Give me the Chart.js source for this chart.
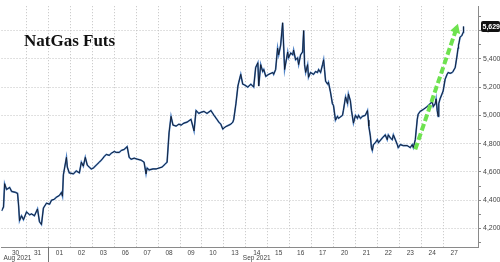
<!DOCTYPE html>
<html>
<head>
<meta charset="utf-8">
<script src="https://cdn.jsdelivr.net/npm/chart.js@4.4.0/dist/chart.umd.min.js"></script>
<style>
    html, body { margin: 0; padding: 0; background: #fff; }
    #wrap { width: 500px; height: 262px; }
</style>
</head>
<body>
<div id="wrap"><canvas id="chart" width="500" height="262"></canvas></div>
<script>
// Trading days on the x axis (index 0 = Aug 30), fractions = time within the session
const dayLabels = ['30', '31', '01', '02', '03', '06', '07', '08', '09', '10', '13',
    '14', '15', '16', '17', '20', '21', '22', '23', '24', '27'];
const monthLabels = ['Aug 2021', 'Sep 2021'];
const monthStart = [0, 2]; // first day index of each month

// y ticks: minor marks every 100, labels and grid every 200
const yTicks = [4100, 4200, 4300, 4400, 4500, 4600, 4700, 4800, 4900, 5000,
    5100, 5200, 5300, 5400, 5500, 5600, 5700];
const yLabelled = [4200, 4400, 4600, 4800, 5000, 5200, 5400, 5600];

// NatGas futures
const times = [
    -0.64, -0.55, -0.5, -0.41, -0.27, -0.18, 0, 0.09, 0.14, 0.18, 0.27, 0.36, 0.5, 0.64, 0.73, 0.86,
    1.0, 1.09, 1.18, 1.27, 1.41, 1.55, 1.64, 1.77, 1.86, 2.0, 2.09, 2.14, 2.18, 2.32, 2.36, 2.45,
    2.64, 2.77, 2.91, 3.0, 3.09, 3.18, 3.27, 3.36, 3.45, 3.55, 3.68, 3.82, 3.91, 4.05, 4.14, 4.27,
    4.36, 4.5, 4.59, 4.73, 4.82, 4.95, 5.09, 5.18, 5.27, 5.41, 5.55, 5.73, 5.86, 5.95, 6.0, 6.09,
    6.27, 6.41, 6.55, 6.68, 6.82, 6.91, 7.0, 7.09, 7.18, 7.32, 7.45, 7.55, 7.68, 7.82, 8.0, 8.14,
    8.23, 8.36, 8.45, 8.59, 8.73, 8.91, 9.05, 9.18, 9.27, 9.36, 9.45, 9.55, 9.64, 9.73, 9.82, 9.91,
    9.95, 10.05, 10.14, 10.18, 10.27, 10.36, 10.45, 10.59, 10.73, 10.86, 10.95, 11.05, 11.09, 11.18,
    11.27, 11.32, 11.41, 11.55, 11.73, 11.77, 11.86, 11.95, 12.0, 12.09, 12.18, 12.23, 12.27, 12.41,
    12.45, 12.55, 12.64, 12.68, 12.77, 12.86, 12.91, 13.0, 13.09, 13.14, 13.18, 13.23, 13.32, 13.36,
    13.45, 13.59, 13.68, 13.77, 13.82, 13.91, 14.0, 14.05, 14.09, 14.14, 14.23, 14.27, 14.36, 14.45,
    14.5, 14.59, 14.68, 14.73, 14.91, 14.95, 15.05, 15.14, 15.18, 15.27, 15.32, 15.41, 15.5, 15.59,
    15.64, 15.73, 15.82, 15.95, 16.05, 16.09, 16.11, 16.18, 16.23, 16.27, 16.32, 16.41, 16.5, 16.55,
    16.73, 16.86, 16.95, 17.0, 17.09, 17.18, 17.23, 17.32, 17.41, 17.45, 17.55, 17.68, 17.86, 18.0,
    18.09, 18.14, 18.23, 18.32, 18.36, 18.45, 18.59, 18.77, 18.91, 19.0, 19.05, 19.14, 19.18, 19.23,
    19.27, 19.3, 19.36, 19.45, 19.5, 19.59, 19.68, 19.73, 19.82, 19.91, 19.95, 20.05, 20.14, 20.18,
    20.2, 20.23, 20.27, 20.36, 20.41, 20.43
];
const prices = [
    4324, 4352, 4517, 4476, 4490, 4462, 4455, 4448, 4359, 4255, 4290, 4262, 4317, 4297, 4303, 4290,
    4338, 4248, 4228, 4345, 4379, 4372, 4400, 4407, 4421, 4434, 4455, 4428, 4579, 4703, 4634, 4593,
    4586, 4607, 4593, 4669, 4641, 4703, 4648, 4634, 4621, 4628, 4648, 4669, 4683, 4710, 4724, 4717,
    4731, 4745, 4738, 4738, 4752, 4759, 4779, 4703, 4690, 4697, 4690, 4683, 4669, 4586, 4628, 4614,
    4621, 4621, 4628, 4634, 4655, 4669, 4876, 4993, 4931, 4924, 4938, 4931, 4945, 4952, 4972, 4890,
    5034, 5014, 5021, 5028, 5014, 5034, 5000, 4972, 4952, 4938, 4903, 4917, 4924, 4931, 4938, 4952,
    4972, 5083, 5207, 5234, 5290, 5221, 5214, 5200, 5221, 5200, 5338, 5372, 5207, 5359,
    5310, 5324, 5276, 5290, 5303, 5290, 5324, 5476, 5428, 5497, 5655, 5476, 5324, 5448,
    5407, 5441, 5428, 5462, 5393, 5407, 5359, 5428, 5448, 5600, 5359, 5303, 5359, 5269,
    5303, 5290, 5310, 5303, 5324, 5303, 5359, 5393, 5324, 5241, 5221, 5234, 5166, 5083,
    5069, 4966, 4993, 4979, 5000, 5034, 5131, 5083, 5152, 5103, 5034, 4945, 5000, 4979,
    5000, 4979, 4993, 5000, 5034, 4966, 4924, 4855, 4772, 4752, 4793, 4807, 4828, 4807,
    4841, 4862, 4828, 4862, 4841, 4828, 4862, 4828, 4793, 4772, 4793, 4786, 4786, 4772,
    4793, 4772, 4828, 4972, 5007, 5028, 5041, 5062, 5083, 5097, 5062, 5083, 5117, 5034,
    4993, 5083, 5117, 5152, 5172, 5255, 5290, 5303, 5297, 5303, 5310, 5338, 5428, 5476,
    5497, 5517, 5552, 5566, 5586, 5629
];

// green trend arrow (start, tip)
const arrowTimes = [18.23, 20.09];
const arrowPrices = [4759, 5607];

const lastPrice = 5629;
const yMin = 4069;
const yMax = 5772;

const lineData = times.map((t, i) => ({ x: t, y: prices[i] }));
const arrowData = arrowTimes.map((t, i) => ({ x: t, y: arrowPrices[i] }));

const fmt = v => v.toLocaleString('en-US');
const gridColor = '#c2c2c2';
const clear = 'rgba(0,0,0,0)';

// title, month labels and last price tag
const extras = {
    id: 'extras',
    afterDraw(chart) {
        const { ctx, chartArea } = chart;
        const x = chart.scales.x;
        const y = chart.scales.y;
        ctx.save();

        ctx.font = 'bold 17px "Liberation Serif"';
        ctx.fillStyle = '#111';
        ctx.textAlign = 'left';
        ctx.textBaseline = 'alphabetic';
        ctx.fillText('NatGas Futs', 24, 46);

        const sepX = Math.round(x.getPixelForValue(monthStart[1] - 0.5)) + 0.5;
        ctx.strokeStyle = '#777';
        ctx.lineWidth = 1;
        ctx.beginPath();
        ctx.moveTo(sepX, chartArea.bottom);
        ctx.lineTo(sepX, chart.height);
        ctx.stroke();

        ctx.font = '6.5px "Liberation Sans"';
        ctx.fillStyle = '#444';
        ctx.textBaseline = 'middle';
        ctx.fillText(monthLabels[0], chartArea.left + 2, 258);
        const endX = x.getPixelForValue(dayLabels.length - 0.5);
        ctx.textAlign = 'center';
        ctx.fillText(monthLabels[1], (sepX + endX) / 2, 258);

        const py = y.getPixelForValue(lastPrice);
        const bx = chartArea.right + 3;
        ctx.fillStyle = '#111';
        ctx.beginPath();
        ctx.roundRect(bx, py - 5.5, chart.width - bx, 11, 2);
        ctx.fill();
        ctx.fillStyle = '#fff';
        ctx.font = 'bold 7px "Liberation Sans"';
        ctx.textAlign = 'left';
        ctx.fillText(fmt(lastPrice), bx + 1.5, py + 0.5);

        ctx.restore();
    }
};

new Chart(document.getElementById('chart').getContext('2d'), {
    type: 'line',
    data: {
        datasets: [
            {
                data: arrowData,
                borderColor: '#6ee24f',
                borderWidth: 4,
                borderDash: [7, 3],
                pointRadius: [0, 6],
                pointStyle: 'triangle',
                pointRotation: [0, 18],
                pointBackgroundColor: '#6ee24f',
                pointBorderColor: '#6ee24f',
                pointBorderWidth: 0
            },
            {
                data: lineData,
                borderColor: '#10182a',
                borderWidth: 0.9,
                pointRadius: 0
            },
            {
                data: lineData,
                borderColor: '#4e82c6',
                borderWidth: 1.7,
                pointRadius: 0
            }
        ]
    },
    options: {
        responsive: false,
        animation: false,
        layout: { padding: 0, autoPadding: false },
        plugins: { legend: { display: false }, tooltip: { enabled: false } },
        scales: {
            x: {
                type: 'linear',
                min: -0.64,
                max: 21.09,
                afterBuildTicks: s => { s.ticks = dayLabels.map((d, i) => ({ value: i - 0.5 })); },
                afterFit: s => { s.height = 15; },
                grid: {
                    color: c => c.tick && c.tick.value < 0 ? clear : gridColor,
                    tickColor: clear,
                    tickLength: 1
                },
                border: { display: true, color: '#8a8a8a', dash: [1, 2] },
                ticks: {
                    callback: (v, i) => dayLabels[i],
                    labelOffset: 11,
                    padding: 1,
                    autoSkip: false,
                    maxRotation: 0,
                    color: '#444',
                    font: { family: 'Liberation Sans', size: 6.5 }
                }
            },
            y: {
                position: 'right',
                min: yMin,
                max: yMax,
                afterBuildTicks: s => { s.ticks = yTicks.map(v => ({ value: v })); },
                afterFit: s => { s.width = 22; },
                grid: {
                    color: c => (c.tick && yLabelled.includes(c.tick.value)) ? gridColor : clear,
                    tickColor: '#888',
                    tickLength: 3,
                    tickBorderDash: []
                },
                border: { display: true, color: '#8a8a8a', dash: [1, 2] },
                ticks: {
                    autoSkip: false,
                    callback: v => yLabelled.includes(v) ? fmt(v) : '',
                    padding: 2,
                    color: '#444',
                    font: { family: 'Liberation Sans', size: 7 }
                }
            }
        }
    },
    plugins: [extras]
});
</script>
</body>
</html>
